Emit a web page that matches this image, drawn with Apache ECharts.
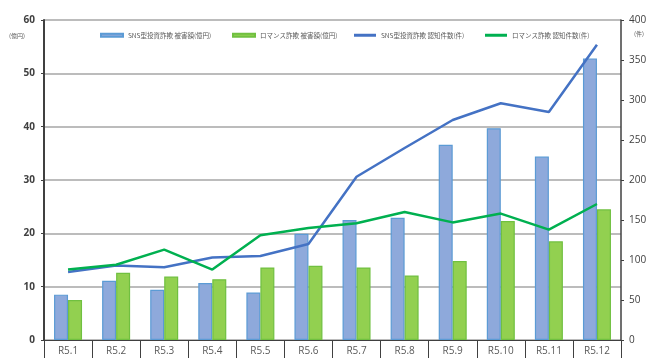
<!DOCTYPE html>
<html><head><meta charset="utf-8">
<script src="https://cdn.jsdelivr.net/npm/echarts@6/dist/echarts.min.js"></script>
<style>html,body{margin:0;padding:0;background:#fff}#c{width:666px;height:363px}</style>
</head><body><div id="c"></div>
<script>
const categories = ['R5.1','R5.2','R5.3','R5.4','R5.5','R5.6','R5.7','R5.8','R5.9','R5.10','R5.11','R5.12'];
const snsDamage = [8.5, 11.1, 9.4, 10.7, 8.9, 19.9, 22.5, 22.9, 36.6, 39.7, 34.4, 52.8];
const romanceDamage = [7.5, 12.6, 11.9, 11.4, 13.6, 13.9, 13.6, 12.1, 14.8, 22.3, 18.5, 24.5];
const snsCount = [85, 93, 91, 103, 105, 120, 204, 240, 275, 296, 285, 369];
const romanceCount = [88, 94, 113, 88, 131, 140, 146, 160, 147, 158, 138, 170];
const leftTicks = [0, 10, 20, 30, 40, 50, 60];
const rightTicks = [0, 50, 100, 150, 200, 250, 300, 350, 400];
const names = ['SNS型投資詐欺 被害額(億円)','ロマンス詐欺 被害額(億円)','SNS型投資詐欺 認知件数(件)','ロマンス詐欺 認知件数(件)'];

const chart = echarts.init(document.getElementById('c'), null, {renderer:'canvas'});
const font = '"Noto Sans CJK JP", "Noto Sans", sans-serif';
const legendPos = [100, 232, 354, 485];
const legIcons = ['rect','rect','rect','rect'];
chart.setOption({
  animation:false,
  textStyle:{fontFamily:font},
  grid:{left:44, right:45, top:20, bottom:23},
  legend: names.map((n,i)=>({
    data:[{name:n, icon:'rect'}], left:legendPos[i], top:32, itemWidth:22, itemHeight:3, itemGap:2,
    textStyle:{fontSize:6.5, color:'#595959', fontFamily:font}, padding:0, selectedMode:false
  })),
  xAxis:[{
    type:'category', data:categories, position:'bottom',
    axisLine:{show:true, lineStyle:{color:'#404040', width:1}},
    axisTick:{show:true, length:18, lineStyle:{color:'#404040'}},
    axisLabel:{fontSize:10, color:'#595959', margin:6, fontFamily:'"Open Sans", sans-serif'}
  },{
    type:'category', data:categories, position:'bottom', offset:18,
    axisLine:{show:true, lineStyle:{color:'#404040', width:1}},
    axisTick:{show:false}, axisLabel:{show:false}
  }],
  yAxis:[{
    type:'value', min:0, max:60, interval:10, position:'left',
    axisLine:{show:true, lineStyle:{color:'#404040', width:2}},
    axisTick:{show:true, length:3, lineStyle:{color:'#404040'}},
    axisLabel:{fontSize:10, color:'#404040', margin:9, fontWeight:'bold', fontFamily:'"Open Sans", sans-serif',
      formatter:v=>leftTicks.includes(v)?String(v):''},
    splitLine:{show:true, lineStyle:{color:'#A6A6A6', width:1.5}}
  },{
    type:'value', min:0, max:400, interval:50, position:'right',
    axisLine:{show:true, lineStyle:{color:'#404040', width:1.5}},
    axisTick:{show:true, length:3, lineStyle:{color:'#404040'}},
    axisLabel:{fontSize:10, color:'#404040', margin:8, fontFamily:'"Open Sans", sans-serif',
      formatter:v=>rightTicks.includes(v)?String(v):''},
    splitLine:{show:false}
  }],
  graphic:[
    {type:'text', left:9, top:33, style:{text:'(億円)', fontSize:6, fill:'#595959', fontFamily:font}},
    {type:'text', left:634, top:31, style:{text:'(件)', fontSize:6, fill:'#595959', fontFamily:font}}
  ],
  series:[
    {name:names[0], type:'bar', data:snsDamage, barWidth:14, barGap:'0%',
      itemStyle:{color:'#8EA9DB', borderColor:'#5B9BD5', borderWidth:1.2}},
    {name:names[1], type:'bar', data:romanceDamage, barWidth:14, barGap:'0%',
      itemStyle:{color:'#92D050', borderColor:'#70C040', borderWidth:1.2}},
    {name:names[2], type:'line', yAxisIndex:1, data:snsCount, showSymbol:false, symbol:'none',
      lineStyle:{color:'#4472C4', width:2.5}, itemStyle:{color:'#4472C4'}, z:5},
    {name:names[3], type:'line', yAxisIndex:1, data:romanceCount, showSymbol:false, symbol:'none',
      lineStyle:{color:'#00B050', width:2.5}, itemStyle:{color:'#00B050'}, z:6}
  ]
});
</script></body></html>
